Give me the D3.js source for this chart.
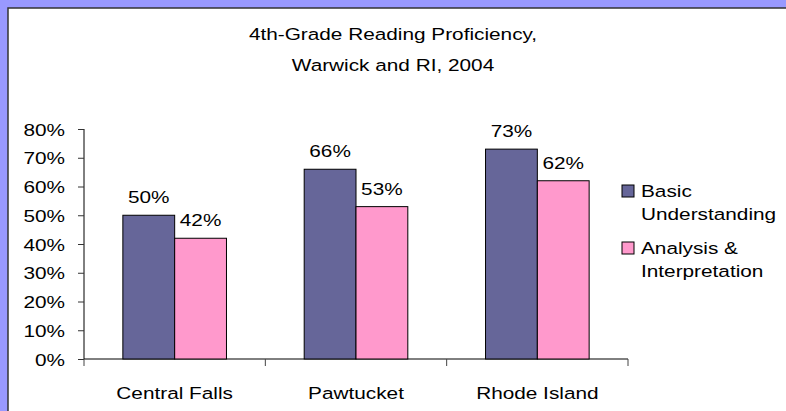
<!DOCTYPE html>
<html>
<head>
<meta charset="utf-8">
<script src="https://cdn.jsdelivr.net/npm/d3@7"></script>
<style>
	body { margin: 0; background: #9999ff; }
	text { font-family: Arial, "Liberation Sans", sans-serif; fill: #000; }
</style>
</head>
<body>
<div id="chart"></div>
<script>
var categories = ['Central Falls', 'Pawtucket', 'Rhode Island'];
var series = ['Basic Understanding', 'Analysis & Interpretation'];
var basicValues = [0.50, 0.66, 0.73];
var analysisValues = [0.42, 0.53, 0.62];
var yTicks = [0, 0.1, 0.2, 0.3, 0.4, 0.5, 0.6, 0.7, 0.8];
var titleLines = ['4th-Grade Reading Proficiency,', 'Warwick and RI, 2004'];
var legendLines = [['Basic', 'Understanding'], ['Analysis &', 'Interpretation']];
var colors = ['#666699', '#ff99cc'];

var options = {
	w: 786,
	h: 411,
	plot: { left: 84, right: 628, top: 129, bottom: 359 },
	font: 16.5,
	stretch: 1.26
};

// the original text is drawn wider than it is tall
function put(sel, x, y) {
	return sel.attr('transform', 'translate(' + x + ',' + y + ') scale(' + options.stretch + ',1)');
}

var svg = d3.select('#chart')
	.append('svg')
	.attr('width', options.w)
	.attr('height', options.h);

svg.append('rect')
	.attr('x', 0).attr('y', 0)
	.attr('width', options.w).attr('height', options.h)
	.attr('fill', '#9999ff');

svg.append('rect')
	.attr('x', 8).attr('y', 8)
	.attr('width', options.w + 10).attr('height', options.h + 10)
	.attr('fill', '#fff')
	.attr('stroke', '#333')
	.attr('stroke-width', 1.5);

// title
titleLines.forEach(function(t, i) {
	put(svg.append('text'), 393, 40 + i * 31)
		.attr('text-anchor', 'middle')
		.style('font-size', options.font + 'px')
		.text(t);
});

var y = d3.scaleLinear()
	.domain([0, 0.8])
	.range([options.plot.bottom, options.plot.top]);

var x0 = d3.scaleBand()
	.domain(categories)
	.range([options.plot.left, options.plot.right])
	.paddingInner(0)
	.paddingOuter(0);

var x1 = d3.scaleBand()
	.domain(series)
	.range([0, x0.bandwidth()])
	.paddingInner(0)
	.paddingOuter(0.75);

var data = categories.map(function(c, i) {
	return { cat: c, vals: [basicValues[i], analysisValues[i]] };
});

// y axis
var yAxis = svg.append('g')
	.attr('transform', 'translate(' + options.plot.left + ',0)')
	.call(d3.axisLeft(y).tickValues(yTicks).tickSize(6).tickFormat(d3.format('.0%')));
yAxis.attr('font-family', null).attr('font-size', null);
yAxis.select('.domain').attr('stroke', '#000').attr('d', 'M0,' + options.plot.top + 'V' + options.plot.bottom);
yAxis.selectAll('.tick line').attr('stroke', '#333');
yAxis.selectAll('.tick text').each(function(d) {
	var t = d3.select(this);
	t.attr('x', null).attr('dy', null);
	put(t, -19, 6)
		.attr('text-anchor', 'end')
		.style('font-size', options.font + 'px');
});

// x axis
var xAxis = svg.append('g')
	.attr('transform', 'translate(0,' + options.plot.bottom + ')');
xAxis.append('line')
	.attr('x1', options.plot.left).attr('x2', options.plot.right)
	.attr('y1', 0).attr('y2', 0)
	.attr('stroke', '#000');
xAxis.selectAll('.cattick')
	.data(categories.concat(['end']))
	.enter()
	.append('line')
	.attr('class', 'cattick')
	.attr('x1', function(d) { return d === 'end' ? options.plot.right : x0(d); })
	.attr('x2', function(d) { return d === 'end' ? options.plot.right : x0(d); })
	.attr('y1', 0).attr('y2', 7)
	.attr('stroke', '#444');
xAxis.selectAll('.catlabel')
	.data(categories)
	.enter()
	.append('text')
	.attr('class', 'catlabel')
	.attr('text-anchor', 'middle')
	.style('font-size', options.font + 'px')
	.each(function(d) {
		put(d3.select(this), x0(d) + x0.bandwidth() / 2, 40);
	})
	.text(function(d) { return d; });

// bars
var groups = svg.selectAll('g.group')
	.data(data)
	.enter()
	.append('g')
	.attr('class', 'group')
	.attr('transform', function(d) { return 'translate(' + x0(d.cat) + ',0)'; });

groups.selectAll('rect')
	.data(function(d) { return d.vals; })
	.enter()
	.append('rect')
	.attr('x', function(d, i) { return x1(series[i]); })
	.attr('y', function(d) { return y(d); })
	.attr('width', x1.bandwidth())
	.attr('height', function(d) { return options.plot.bottom - y(d); })
	.attr('fill', function(d, i) { return colors[i]; })
	.attr('stroke', '#000')
	.attr('stroke-width', 1);

groups.selectAll('text.val')
	.data(function(d) { return d.vals; })
	.enter()
	.append('text')
	.attr('class', 'val')
	.attr('text-anchor', 'middle')
	.style('font-size', options.font + 'px')
	.each(function(d, i) {
		put(d3.select(this), x1(series[i]) + x1.bandwidth() / 2, y(d) - 12);
	})
	.text(function(d) { return d3.format('.0%')(d); });

// legend
var legend = svg.selectAll('g.legend')
	.data(series)
	.enter()
	.append('g')
	.attr('class', 'legend')
	.attr('transform', function(d, i) { return 'translate(622,' + (185 + i * 57) + ')'; });

legend.append('rect')
	.attr('width', 12).attr('height', 12)
	.attr('fill', function(d, i) { return colors[i]; })
	.attr('stroke', '#000');

legend.each(function(d, i) {
	var g = d3.select(this);
	legendLines[i].forEach(function(line, j) {
		put(g.append('text'), 19, 12 + j * 23)
			.style('font-size', options.font + 'px')
			.text(line);
	});
});
</script>
</body>
</html>
